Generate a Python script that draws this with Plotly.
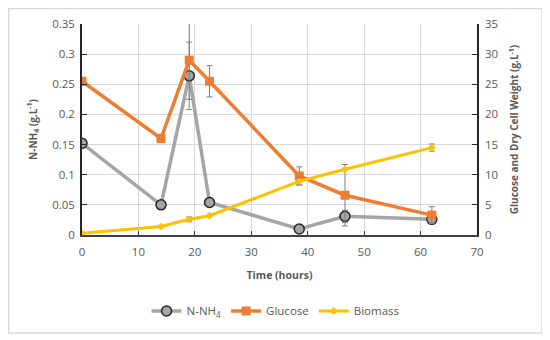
import plotly.graph_objects as go

time_h = [0, 14, 19, 22.6, 38.5, 46.6, 62]
nh4 = [0.152, 0.050, 0.264, 0.054, 0.010, 0.031, 0.026]
nh4_err = [0.0, 0.0, 0.056, 0.0, 0.0, 0.01, 0.004]
glucose = [25.5, 16.0, 29.0, 25.5, 9.8, 6.6, 3.3]
glucose_err = [0.0, 0.0, 6.5, 2.6, 1.5, 5.1, 1.4]
biomass = [0.3, 1.4, 2.6, 3.2, 8.9, 10.9, 14.5]
biomass_err = [0.0, 0.0, 0.4, 0.0, 0.6, 0.0, 0.6]

GRAY_TXT = "#595959"
FONT = "Open Sans"
ERRC = "#7f7f7f"

fig = go.Figure()
fig.add_trace(go.Scatter(
    x=time_h, y=nh4, name="N-NH<sub>4</sub>", mode="lines+markers",
    line=dict(color="#a5a5a5", width=3.5),
    marker=dict(symbol="circle", size=10, color="#a5a5a5", line=dict(color="#262626", width=1.5)),
    error_y=dict(type="data", array=nh4_err, color=ERRC, thickness=1, width=3),
))
fig.add_trace(go.Scatter(
    x=time_h, y=glucose, name="Glucose", mode="lines+markers", yaxis="y2",
    line=dict(color="#ed7d31", width=3.5),
    marker=dict(symbol="square", size=9, color="#ed7d31"),
    error_y=dict(type="data", array=glucose_err, color=ERRC, thickness=1, width=3),
))
fig.add_trace(go.Scatter(
    x=time_h, y=biomass, name="Biomass", mode="lines+markers", yaxis="y2",
    line=dict(color="#ffc000", width=3),
    marker=dict(symbol="diamond", size=6, color="#ffc000"),
    error_y=dict(type="data", array=biomass_err, color=ERRC, thickness=1, width=3),
))

fig.update_layout(
    width=550, height=340,
    margin=dict(l=74, r=81, t=16, b=113),
    paper_bgcolor="white", plot_bgcolor="white",
    font=dict(family=FONT, size=11, color=GRAY_TXT),
    xaxis=dict(
        range=[0, 70], dtick=10, showgrid=True, gridcolor="#d9d9d9", gridwidth=1,
        showline=True, linecolor="#404040", linewidth=1.5,
        ticks="inside", ticklen=4, tickcolor="#404040", ticklabelstandoff=5,
        tickfont=dict(size=11.5, color=GRAY_TXT),
        title=dict(text="<b>Time (hours)</b>", font=dict(size=10.5, color=GRAY_TXT), standoff=14),
        zeroline=False, automargin=False,
    ),
    yaxis=dict(
        range=[0, 0.35], dtick=0.05, showgrid=True, gridcolor="#d9d9d9", gridwidth=1,
        showline=True, linecolor="#262626", linewidth=1.5,
        ticks="inside", ticklen=5, tickcolor="#262626", ticklabelstandoff=3,
        tickfont=dict(size=11.5, color=GRAY_TXT),
        title=dict(text="<b>N-NH<sub>4</sub> (g.L<sup>-1</sup>)</b>", font=dict(size=10, color=GRAY_TXT), standoff=13),
        zeroline=False, automargin=False,
    ),
    yaxis2=dict(
        range=[0, 35], dtick=5, overlaying="y", side="right", showgrid=False,
        showline=True, linecolor="#262626", linewidth=1.5,
        ticks="inside", ticklen=5, tickcolor="#262626", ticklabelstandoff=4,
        tickfont=dict(size=11.5, color=GRAY_TXT),
        title=dict(text="<b>Glucose and Dry Cell Weight (g.L<sup>-1</sup>)</b>", font=dict(size=10, color=GRAY_TXT), standoff=14),
        zeroline=False, automargin=False,
    ),
    legend=dict(orientation="h", x=0.49, xanchor="center", y=-0.36, yanchor="middle",
                font=dict(size=11.5, color=GRAY_TXT), bgcolor="rgba(0,0,0,0)"),
    shapes=[dict(type="rect", xref="paper", yref="paper", x0=-0.186, x1=1.1646, y0=-0.4645, y1=1.0735,
                 line=dict(color="#d9d9d9", width=1.5), fillcolor="rgba(0,0,0,0)", layer="below")],
)

fig.write_html("out.html")
